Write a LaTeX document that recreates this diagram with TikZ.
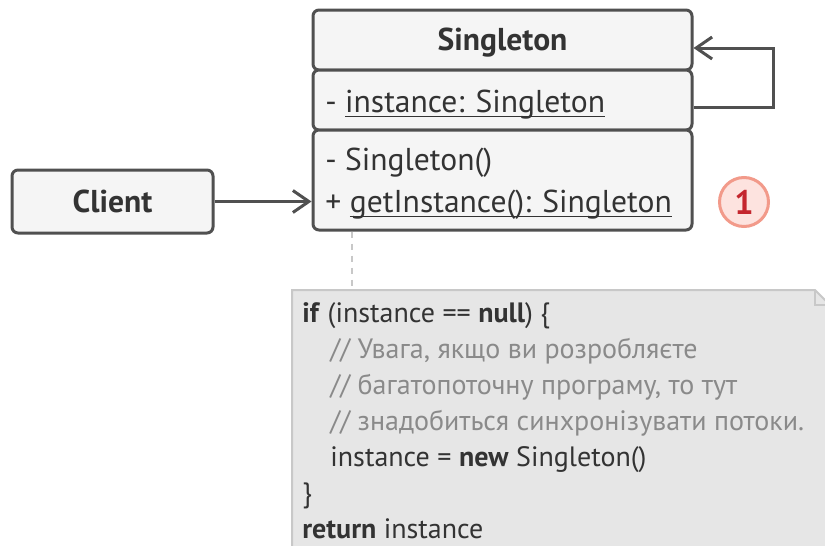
\documentclass[tikz,border=0pt]{standalone}
\usepackage{fontspec}
\setmainfont{PT Sans}
\usetikzlibrary{positioning, arrows.meta}

\definecolor{umlline}{HTML}{505050}
\definecolor{umlfill}{HTML}{F5F5F5}
\definecolor{umltext}{HTML}{333333}
\definecolor{notefill}{HTML}{E6E6E6}
\definecolor{noteline}{HTML}{C8C8C8}
\definecolor{comment}{HTML}{8A8A8A}
\definecolor{badgefill}{HTML}{FDE3DF}
\definecolor{badgeline}{HTML}{F29A8A}
\definecolor{badgetext}{HTML}{C4262E}

\newlength\ulwd
\newcommand{\stline}[1]{\settowidth{\ulwd}{#1}\rlap{\rule[-2.2pt]{\ulwd}{0.7pt}}#1}

\begin{document}
\begin{tikzpicture}[x=0.5pt, y=-0.5pt,
  cls/.style={rectangle, draw=umlline, line width=1.5pt, fill=umlfill, rounded corners=3pt, minimum width=189.5pt, inner sep=0pt},
  member/.style={anchor=west, inner sep=0pt, font=\fontsize{15.8}{18}\selectfont, text=umltext},
  arr/.style={-{Straight Barb[length=8pt, width=11pt]}, draw=umlline, line width=1.5pt},
  link/.style={draw=noteline, line width=1.2pt, dash pattern=on 3pt off 3pt},
]
  \useasboundingbox (0,0) rectangle (825,546);
  \clip (0,0) rectangle (825,546);

  % class boxes
  \node[cls, minimum height=30pt] (title) at (502.5,40) {};
  \node[cls, minimum height=30pt] (attrs) at (502.5,100) {};
  \node[cls, minimum height=50pt] (meths) at (502.5,180) {};
  \node[inner sep=0pt, font=\bfseries\fontsize{15.8}{18}\selectfont, text=umltext] (name) at (502.5,43) {Singleton};
  \node[member] (inst) at (325,105) {- \stline{instance: Singleton}};
  \node[member] (ctor) at (325,163) {- Singleton()};
  \node[member] (getinst) at (325,205) {+ \stline{getInstance(): Singleton}};

  \node[cls, minimum width=100.5pt, minimum height=31.5pt, font=\bfseries\fontsize{15.8}{18}\selectfont, text=umltext] (client) at (112.5,201.5) {Client};

  \draw[arr] (client.east) -- (client.east -| meths.west);
  \draw[arr] ([yshift=-3.5pt]attrs.east) -- ++(80,0) |- ([yshift=-4pt]title.east);

  \node[circle, draw=badgeline, fill=badgefill, line width=1.5pt, minimum size=24.5pt, inner sep=0pt, text=badgetext, font=\bfseries\fontsize{17}{18}\selectfont] (badge) at (744,202) {1};

  % note
  \coordinate (notetop) at (352,290);
  \draw[link] (notetop |- meths.south) -- (notetop);
  \filldraw[fill=notefill, draw=noteline, line width=1pt] (292,290) -- (815,290) -- (830,305) -- (830,560) -- (292,560) -- cycle;
  \draw[noteline, line width=1pt] (815,290) -- (815,305) -- (830,305);
  \node[anchor=north west, align=left, inner sep=0pt, font=\fontsize{14}{18}\selectfont, text=umltext] (code) at (302,302) {%
    \textbf{if} (instance == \textbf{null}) \{\\
    \hspace*{14pt}\textcolor{comment}{// Увага, якщо ви розробляєте}\\
    \hspace*{14pt}\textcolor{comment}{// багатопоточну програму, то тут}\\
    \hspace*{14pt}\textcolor{comment}{// знадобиться синхронізувати потоки.}\\
    \hspace*{14pt}instance = \textbf{new} Singleton()\\
    \}\\
    \textbf{return} instance};
\end{tikzpicture}
\end{document}
